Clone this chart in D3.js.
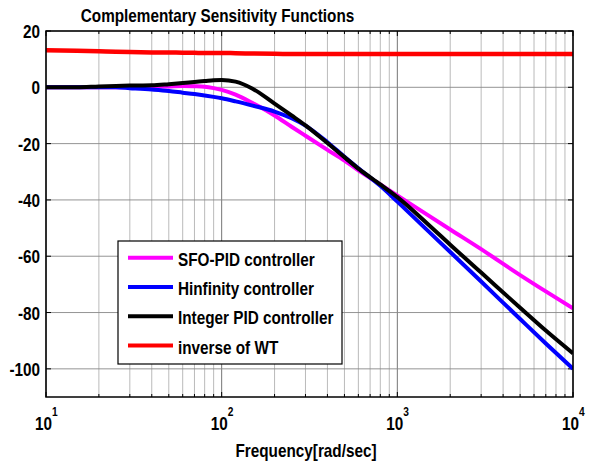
<!DOCTYPE html>
<html><head><meta charset="utf-8">
<script src="https://cdn.jsdelivr.net/npm/d3@7"></script>
<style>
body{margin:0;background:#fff;}
text{font-family:"Liberation Sans",Arial,sans-serif;font-weight:bold;}
</style></head>
<body>
<svg id="chart" width="594" height="463"></svg>
<script>
// ---- data ----
const freq = [10, 15, 20, 25, 30, 40, 50, 60, 70, 80, 90, 100, 120, 150, 200, 250, 300, 400, 500, 600, 800, 1000, 1500, 2000, 3000, 5000, 7000, 10000];
const sfoPid = [0, 0, 0, 0, 0, 0.1, 0.3, 0.5, 0.4, 0.2, -0.3, -0.9, -2.6, -5.6, -10, -14, -17.2, -22.2, -26, -29.5, -34.5, -38.4, -45.5, -50.5, -57.5, -66.7, -72.5, -78.5];
const hinf = [0, 0, 0, 0, -0.3, -0.8, -1.3, -1.9, -2.4, -2.9, -3.4, -3.9, -5, -6.5, -8.6, -11, -13.6, -19.5, -24.7, -28.8, -35, -40.6, -51.1, -58.5, -69, -82.3, -91, -100];
const intPid = [0, 0, 0.3, 0.5, 0.6, 0.7, 1.1, 1.5, 1.9, 2.2, 2.5, 2.6, 2.0, -0.5, -5.8, -10, -13.5, -19.8, -24.8, -28.9, -34.5, -39, -48.7, -55.9, -65.8, -78.3, -86.4, -94.5];
const invWT = [13.2, 13.0, 12.8, 12.6, 12.5, 12.4, 12.35, 12.3, 12.25, 12.2, 12.2, 12.2, 12.1, 12.0, 11.9, 11.85, 11.8, 11.8, 11.8, 11.8, 11.8, 11.8, 11.8, 11.8, 11.8, 11.8, 11.8, 11.8];
const yTicks = [20, 0, -20, -40, -60, -80, -100];
const xDecades = [10, 100, 1000, 10000];
const xTickExp = ["1", "2", "3", "4"];
const seriesNames = ["SFO-PID controller", "Hinfinity controller", "Integer PID controller", "inverse of WT"];
const seriesColors = ["#ff00ff", "#0000ff", "#000000", "#ff0000"];
const seriesValues = [sfoPid, hinf, intPid, invWT];
const titleText = "Complementary Sensitivity Functions";
const xLabelText = "Frequency[rad/sec]";

// ---- layout ----
const svg = d3.select("#chart");
const L = 46, R = 573, T = 31, B = 397;
const SX = 0.85;
const x = d3.scaleLog().domain([10, 10000]).range([L, R]);
const y = d3.scaleLinear().domain([-110, 20]).range([B, T]);

function addText(px, py, str, size, anchor) {
  return svg.append("text")
    .attr("transform", `translate(${px},${py}) scale(${SX},1)`)
    .attr("text-anchor", anchor || "start")
    .attr("font-size", size).text(str);
}

// minor ticks
const minor = [];
for (let d = 10; d < 10000; d *= 10) for (let k = 2; k <= 9; k++) minor.push(d * k);

const g = svg.append("g");
g.selectAll(".gmin").data(minor).enter().append("line")
  .attr("x1", d => x(d)).attr("x2", d => x(d)).attr("y1", T).attr("y2", B)
  .attr("stroke", "#a8a8a8").attr("stroke-width", 0.8);
g.selectAll(".gmaj").data(xDecades).enter().append("line")
  .attr("x1", d => x(d)).attr("x2", d => x(d)).attr("y1", T).attr("y2", B)
  .attr("stroke", "#666").attr("stroke-width", 0.9);
g.selectAll(".gy").data(yTicks).enter().append("line")
  .attr("x1", L).attr("x2", R).attr("y1", d => y(d)).attr("y2", d => y(d))
  .attr("stroke", "#888").attr("stroke-width", 0.9);

// ticks inward
const tk = svg.append("g").attr("stroke", "#000").attr("stroke-width", 1);
minor.forEach(d => {
  tk.append("line").attr("x1", x(d)).attr("x2", x(d)).attr("y1", B).attr("y2", B - 3);
  tk.append("line").attr("x1", x(d)).attr("x2", x(d)).attr("y1", T).attr("y2", T + 3);
});
xDecades.forEach(d => {
  tk.append("line").attr("x1", x(d)).attr("x2", x(d)).attr("y1", B).attr("y2", B - 5);
  tk.append("line").attr("x1", x(d)).attr("x2", x(d)).attr("y1", T).attr("y2", T + 5);
});
yTicks.forEach(d => {
  tk.append("line").attr("x1", L).attr("x2", L + 5).attr("y1", y(d)).attr("y2", y(d));
  tk.append("line").attr("x1", R).attr("x2", R - 5).attr("y1", y(d)).attr("y2", y(d));
});

svg.append("clipPath").attr("id", "clip").append("rect")
  .attr("x", L).attr("y", T).attr("width", R - L).attr("height", B - T);

const line = d3.line().x((d, i) => x(freq[i])).y(d => y(d)).curve(d3.curveMonotoneX);
const lines = svg.append("g").attr("clip-path", "url(#clip)");
[3, 0, 1, 2].forEach(si => {
  lines.append("path").datum(seriesValues[si])
    .attr("d", line).attr("fill", "none")
    .attr("stroke", seriesColors[si]).attr("stroke-width", si === 3 ? 4.5 : 4)
    .attr("stroke-linejoin", "round");
});

svg.append("rect").attr("x", L).attr("y", T).attr("width", R - L).attr("height", B - T)
  .attr("fill", "none").attr("stroke", "#000").attr("stroke-width", 1.5);

// y tick labels
yTicks.forEach(d => addText(L - 6, y(d) + 7, d, 18, "end"));

// x tick labels
xDecades.forEach((d, i) => {
  addText(x(d) - 11, 430, "10", 18, "start");
  addText(x(d) + 6, 416, xTickExp[i], 12, "start");
});

addText(217.5, 22, titleText, 18, "middle");
addText(306, 457, xLabelText, 18, "middle");

// legend
const lg = svg.append("g");
lg.append("rect").attr("x", 118).attr("y", 241).attr("width", 224).attr("height", 123)
  .attr("fill", "#fff").attr("stroke", "#000").attr("stroke-width", 1.2);
seriesNames.forEach((n, i) => {
  const ly = 257.7 + i * 29.3;
  lg.append("line").attr("x1", 128).attr("x2", 173).attr("y1", ly).attr("y2", ly)
    .attr("stroke", seriesColors[i]).attr("stroke-width", 4);
});
seriesNames.forEach((n, i) => {
  const ly = 257.7 + i * 29.3;
  addText(178, ly + 8, n, 18, "start");
});
</script>
</body></html>
